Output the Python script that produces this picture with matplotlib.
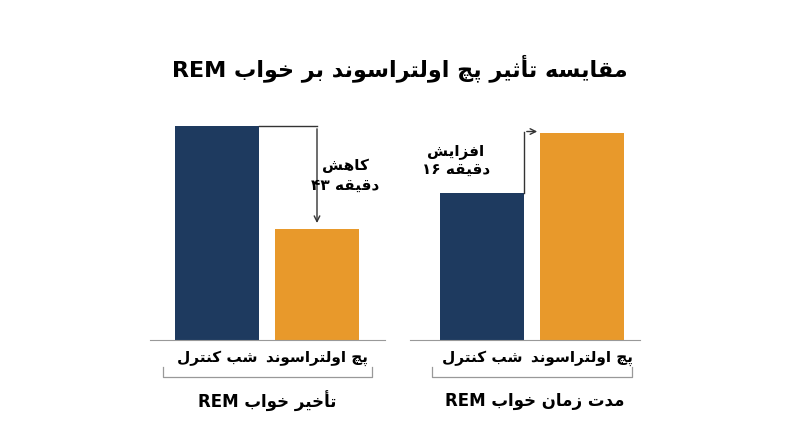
import matplotlib
matplotlib.use("Agg")
import matplotlib.pyplot as plt

# ---- data ----
groups = ["تأخیر خواب", "مدت زمان خواب"]
categories = ["شب کنترل", "پچ اولتراسوند"]
latency = [89, 46]      # minutes (left group)
duration = [39, 55]     # minutes (right group)
notes = [("کاهش", "۴۳"), ("افزایش", "۱۶")]
title_fa = "مقایسه تأثیر پچ اولتراسوند بر خواب"

# ---- minimal Persian shaper (presentation forms) ----
FORMS = {
 'ا':('\uFE8D','\uFE8E'),'أ':('\uFE83','\uFE84'),'د':('\uFEA9','\uFEAA'),
 'ر':('\uFEAD','\uFEAE'),'ز':('\uFEAF','\uFEB0'),'و':('\uFEED','\uFEEE'),
 'ب':('\uFE8F','\uFE90','\uFE91','\uFE92'),'پ':('\uFB56','\uFB57','\uFB58','\uFB59'),
 'ت':('\uFE95','\uFE96','\uFE97','\uFE98'),'ث':('\uFE99','\uFE9A','\uFE9B','\uFE9C'),
 'چ':('\uFB7A','\uFB7B','\uFB7C','\uFB7D'),'خ':('\uFEA5','\uFEA6','\uFEA7','\uFEA8'),
 'س':('\uFEB1','\uFEB2','\uFEB3','\uFEB4'),'ش':('\uFEB5','\uFEB6','\uFEB7','\uFEB8'),
 'ف':('\uFED1','\uFED2','\uFED3','\uFED4'),'ق':('\uFED5','\uFED6','\uFED7','\uFED8'),
 'ک':('\uFB8E','\uFB8F','\uFB90','\uFB91'),'ل':('\uFEDD','\uFEDE','\uFEDF','\uFEE0'),
 'م':('\uFEE1','\uFEE2','\uFEE3','\uFEE4'),'ن':('\uFEE5','\uFEE6','\uFEE7','\uFEE8'),
 'ه':('\uFEE9','\uFEEA','\uFEEB','\uFEEC'),'ی':('\uFBFC','\uFBFD','\uFBFE','\uFBFF'),
}
def shape_word(w):
    out = []
    for i, c in enumerate(w):
        if c not in FORMS:
            out.append(c); continue
        prev = w[i-1] if i > 0 else None
        nxt = w[i+1] if i < len(w)-1 else None
        jp = prev in FORMS and len(FORMS[prev]) == 4
        jn = nxt in FORMS and len(FORMS[c]) == 4
        f = FORMS[c]
        if jp and jn: out.append(f[3])
        elif jp: out.append(f[1])
        elif jn: out.append(f[2])
        else: out.append(f[0])
    return ''.join(out)
def rtl(s):
    return ' '.join(shape_word(w)[::-1] for w in s.split(' ')[::-1])

W, H = 800, 447
fig = plt.figure(figsize=(8, 4.47), dpi=100)
fig.patch.set_facecolor("white")
FONT = ['DejaVu Sans']
NAVY, ORANGE = "#1E3A5F", "#E8992B"

def px(x, y):
    return x / W, 1 - y / H

fig.text(*px(400, 68), "REM " + rtl(title_fa), ha='center', va='center',
         fontsize=16, fontweight='bold', family=FONT)

panels = [
    dict(vals=latency, left=150, right=385, xlim=(-0.67, 1.68), ppu=2.404),
    dict(vals=duration, left=410, right=640, xlim=(-0.72, 1.58), ppu=3.77),
]
axes = []
for p in panels:
    b = 1 - 340 / H
    t = 1 - 100 / H
    ax = fig.add_axes([p['left'] / W, b, (p['right'] - p['left']) / W, t - b])
    ax.bar([0, 1], p['vals'], width=0.84, color=[NAVY, ORANGE])
    ax.set_xlim(*p['xlim'])
    ax.set_ylim(0, 240 / p['ppu'])
    for s in ['top', 'right', 'left']:
        ax.spines[s].set_visible(False)
    ax.spines['bottom'].set_color('#999999')
    ax.set_xticks([0, 1])
    ax.set_xticklabels([rtl(c) for c in categories], fontsize=11,
                       fontweight='bold', family=FONT)
    ax.tick_params(axis='x', length=0, pad=8)
    ax.set_yticks([])
    axes.append(ax)

# brackets and group labels
for (x0, x1), g, cx in [((163, 372), groups[0], 267), ((432, 632), groups[1], 535)]:
    fx0, fy = px(x0, 377); fx1, fyt = px(x1, 367)
    fig.add_artist(plt.Line2D([fx0, fx0, fx1, fx1], [fyt, fy, fy, fyt],
                              color='#999999', lw=0.9))
    fig.text(*px(cx, 401), "REM " + rtl(g), ha='center', va='center',
             fontsize=12, fontweight='bold', family=FONT)

# left annotation (decrease)
ax = axes[0]
ax.plot([0.42, 1.0], [latency[0], latency[0]], color='#333333', lw=1, clip_on=False)
ax.annotate('', xy=(1.0, latency[1] + 1.5), xytext=(1.0, latency[0]),
            arrowprops=dict(arrowstyle='->', color='#333333', lw=1), annotation_clip=False)
ax.text(1.28, 68.5, rtl(notes[0][0]) + "\n" + notes[0][1] + " " + rtl("دقیقه"),
        ha='center', va='center', fontsize=11, fontweight='bold', family=FONT, linespacing=1.4)

# right annotation (increase)
ax = axes[1]
ytop = duration[1] + 0.3
ax.plot([0.42, 0.42], [duration[0], ytop], color='#333333', lw=1, clip_on=False)
ax.annotate('', xy=(0.58, ytop), xytext=(0.42, ytop),
            arrowprops=dict(arrowstyle='->', color='#333333', lw=1), annotation_clip=False)
ax.text(-0.26, 47.5, rtl(notes[1][0]) + "\n" + notes[1][1] + " " + rtl("دقیقه"),
        ha='center', va='center', fontsize=11, fontweight='bold', family=FONT, linespacing=1.4)

fig.savefig("out.png", dpi=100)
